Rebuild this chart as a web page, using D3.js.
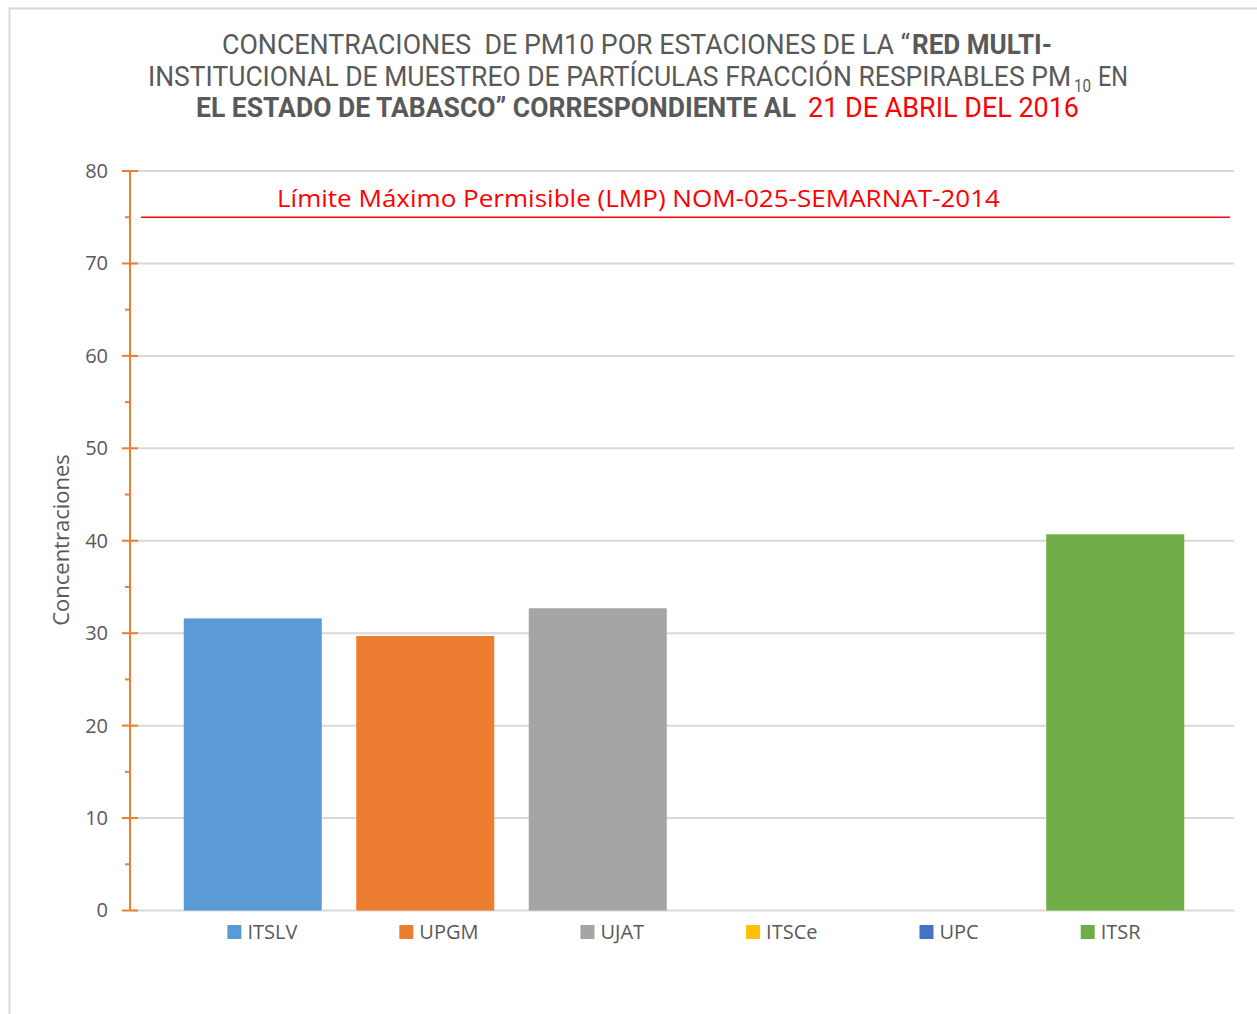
<!DOCTYPE html>
<html>
<head>
<meta charset="utf-8">
<script src="https://cdn.jsdelivr.net/npm/d3@7"></script>
<style>
  html, body { margin: 0; padding: 0; background: #fff; }
  svg { display: block; }
  text { white-space: pre; }
</style>
</head>
<body>
<div id="chart"></div>
<script>
// data
const stations = ['ITSLV', 'UPGM', 'UJAT', 'ITSCe', 'UPC', 'ITSR'];
const concentrations = [31.6, 29.7, 32.7, 0, 0, 40.7];
const colors = ['#5B9BD5', '#ED7D31', '#A5A5A5', '#FFC000', '#4472C4', '#70AD47'];
const yTicks = [0, 10, 20, 30, 40, 50, 60, 70, 80];
const limitValue = 75;
const limitLabel = 'Límite Máximo Permisible (LMP) NOM-025-SEMARNAT-2014';
const yLabel = 'Concentraciones';

const width = 1257, height = 1014;
const gray = '#595959';
const uiFont = '"Open Sans", "Noto Sans", sans-serif';
const titleFont = '"Liberation Sans Narrow", "Roboto", sans-serif';

let svg = d3.select('#chart').append('svg')
    .attr('width', width)
    .attr('height', height);

// chart border (only top and left edges are visible)
svg.append('rect')
    .attr('x', 9.5).attr('y', 8.5)
    .attr('width', width + 20).attr('height', height + 20)
    .attr('fill', 'none')
    .attr('stroke', '#D9D9D9')
    .attr('stroke-width', 2);

// title: one text per line, one tspan per styled segment, each fitted to its width
const titleLines = [
    {y: 54, parts: [
        {text: 'CONCENTRACIONES  DE PM10 POR ESTACIONES DE LA “', x: 222, w: 688},
        {text: 'RED MULTI-', x: 912, w: 140, weight: 'bold'}
    ]},
    {y: 86, parts: [
        {text: 'INSTITUCIONAL DE MUESTREO DE PARTÍCULAS FRACCIÓN RESPIRABLES PM', x: 148, w: 923},
        {text: '10', x: 1074, w: 17, size: 18, dy: 6},
        {text: 'EN', x: 1098, w: 30, dy: -6}
    ]},
    {y: 117, parts: [
        {text: 'EL ESTADO DE TABASCO” CORRESPONDIENTE AL', x: 196, w: 600, weight: 'bold'},
        {text: '21 DE ABRIL DEL 2016', x: 808, w: 271, fill: '#FF0000'}
    ]}
];

let lines = svg.append('g').selectAll('text')
    .data(titleLines)
    .enter()
    .append('text')
    .attr('y', d => d.y)
    .attr('font-family', titleFont)
    .attr('font-size', 28)
    .attr('fill', gray);

lines.selectAll('tspan')
    .data(d => d.parts)
    .enter()
    .append('tspan')
    .attr('x', d => d.x)
    .attr('dy', d => d.dy || 0)
    .attr('font-size', d => d.size || 28)
    .attr('font-weight', d => d.weight || 'normal')
    .attr('fill', d => d.fill || gray)
    .attr('textLength', d => d.w)
    .attr('lengthAdjust', 'spacingAndGlyphs')
    .text(d => d.text);

// scales
let y = d3.scaleLinear()
    .domain([0, 80])
    .range([910.5, 171]);

let x = d3.scaleBand()
    .domain(stations)
    .range([166.5, 1201.5])
    .paddingInner(0.2)
    .paddingOuter(0.1);

const gridLeft = 130, gridRight = 1234;

// gridlines
svg.append('g').selectAll('line')
    .data(yTicks)
    .enter()
    .append('line')
    .attr('x1', gridLeft)
    .attr('x2', gridRight)
    .attr('y1', d => y(d))
    .attr('y2', d => y(d))
    .attr('stroke', '#D9D9D9')
    .attr('stroke-width', 2);

// bars
svg.append('g').selectAll('rect')
    .data(stations)
    .enter()
    .append('rect')
    .attr('x', d => x(d))
    .attr('width', x.bandwidth())
    .attr('y', (d, i) => y(concentrations[i]))
    .attr('height', (d, i) => y(0) - y(concentrations[i]))
    .attr('fill', (d, i) => colors[i]);

// y axis (orange, major + minor ticks)
let axisG = svg.append('g').attr('transform', 'translate(' + gridLeft + ',0)');
axisG.call(d3.axisLeft(y).tickValues(yTicks).tickSize(0).tickPadding(22)
    .tickFormat(d3.format('d')));
axisG.select('.domain').remove();
axisG.selectAll('text')
    .attr('font-family', uiFont)
    .attr('font-size', 20)
    .attr('fill', gray);

axisG.append('line')
    .attr('x1', 0).attr('x2', 0)
    .attr('y1', y(80)).attr('y2', y(0))
    .attr('stroke', '#ED7D31')
    .attr('stroke-width', 2);

axisG.selectAll('.major')
    .data(yTicks)
    .enter()
    .append('line')
    .attr('class', 'major')
    .attr('x1', -8).attr('x2', 8)
    .attr('y1', d => y(d)).attr('y2', d => y(d))
    .attr('stroke', '#ED7D31')
    .attr('stroke-width', 2);

axisG.selectAll('.minor')
    .data(d3.range(5, 80, 10))
    .enter()
    .append('line')
    .attr('class', 'minor')
    .attr('x1', -5).attr('x2', 1)
    .attr('y1', d => y(d)).attr('y2', d => y(d))
    .attr('stroke', '#ED7D31')
    .attr('stroke-width', 2);

// y axis title
svg.append('text')
    .attr('transform', 'translate(69,540) rotate(-90)')
    .attr('text-anchor', 'middle')
    .attr('font-family', uiFont)
    .attr('font-size', 22)
    .attr('fill', gray)
    .text(yLabel);

// limit line + label
svg.append('line')
    .attr('x1', 141).attr('x2', 1230)
    .attr('y1', y(limitValue)).attr('y2', y(limitValue))
    .attr('stroke', '#FF0000')
    .attr('stroke-width', 1.5);

svg.append('text')
    .attr('x', 277)
    .attr('y', 207)
    .attr('font-family', uiFont)
    .attr('font-size', 23)
    .attr('fill', '#FF0000')
    .attr('textLength', 723)
    .attr('lengthAdjust', 'spacingAndGlyphs')
    .text(limitLabel);

// legend: items laid out in a row with a fixed gap, centred under the plot
const legendGap = 102;
let legend = svg.append('g');
let items = legend.selectAll('g')
    .data(stations)
    .enter()
    .append('g');

items.append('text')
    .attr('x', 20)
    .attr('y', 939)
    .attr('font-family', uiFont)
    .attr('font-size', 20)
    .attr('fill', gray)
    .text(d => d);

items.append('rect')
    .attr('x', 0)
    .attr('y', 925)
    .attr('width', 14)
    .attr('height', 14)
    .attr('fill', (d, i) => colors[i]);

let offsets = [], cursor = 0;
items.each(function() {
    let w = 20 + d3.select(this).select('text').node().getComputedTextLength();
    offsets.push(cursor);
    cursor += w + legendGap;
});
let total = cursor - legendGap;
let startX = 684 - total / 2;
items.attr('transform', (d, i) => 'translate(' + (startX + offsets[i]) + ',0)');
</script>
</body>
</html>
